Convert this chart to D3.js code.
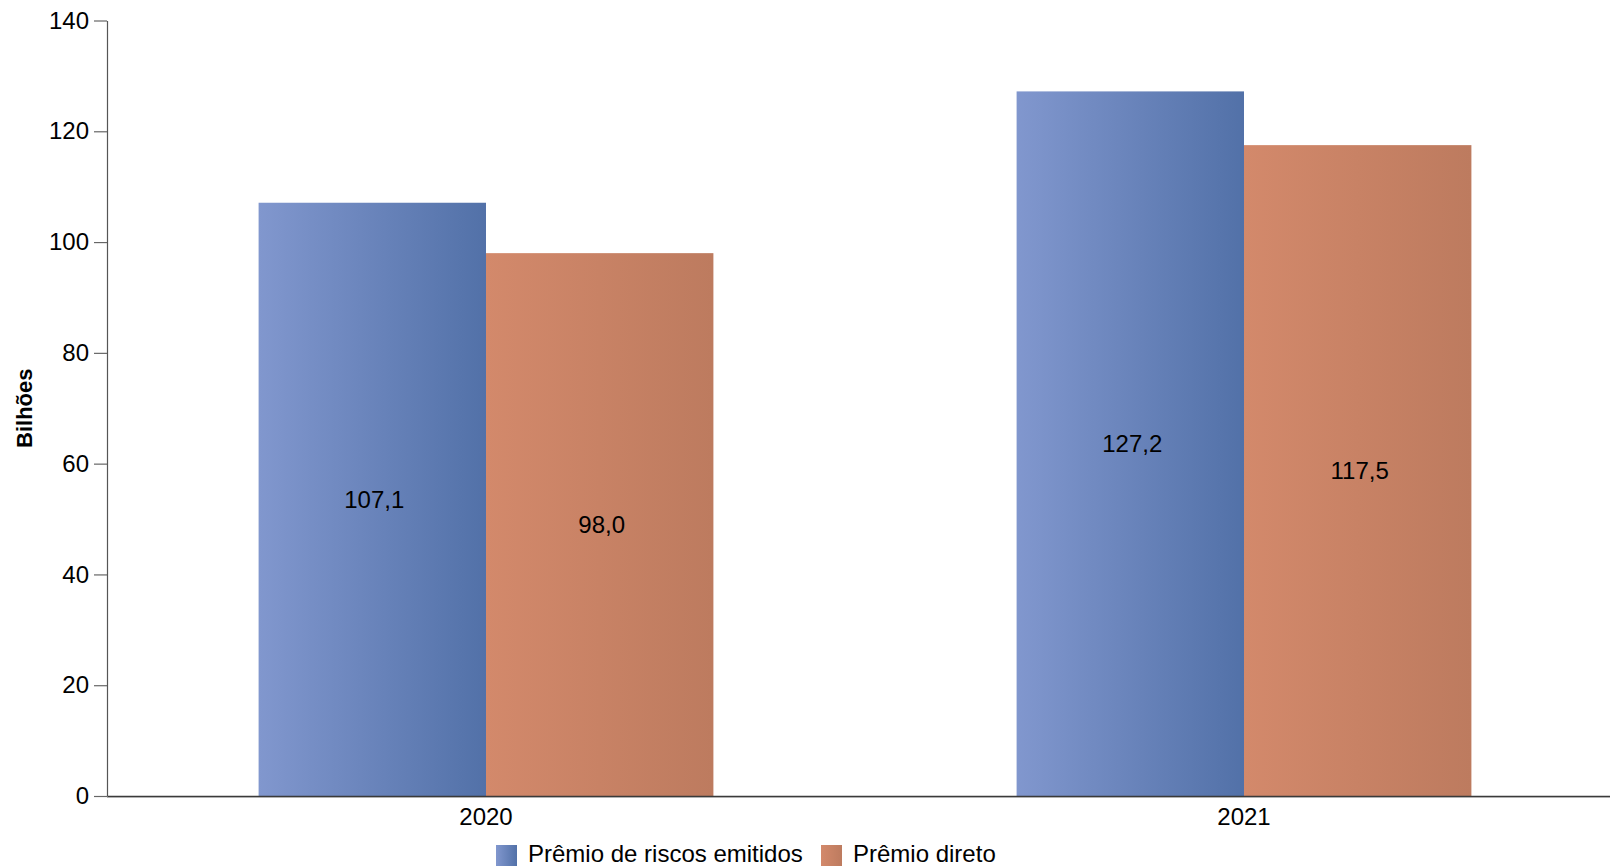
<!DOCTYPE html>
<html>
<head>
<meta charset="utf-8">
<script src="https://cdn.jsdelivr.net/npm/d3@7"></script>
<style>
  html, body { margin: 0; padding: 0; background: #fff; overflow: hidden; }
  text { font-family: "Liberation Sans", Arial, sans-serif; fill: #000; }
</style>
</head>
<body>
<svg id="chart" width="1610" height="868"></svg>
<script>
const categories = ["2020", "2021"];
const seriesNames = ["Prêmio de riscos emitidos", "Prêmio direto"];
const riscosEmitidos = [107.1, 127.2];
const premioDireto = [98.0, 117.5];
const yTicks = [0, 20, 40, 60, 80, 100, 120, 140];
const yTitle = "Bilhões";

const W = 1610, H = 868;
const margin = { left: 107, top: 20.5 };
const plotBottom = 796;
const svg = d3.select("#chart");

const defs = svg.append("defs");
const grads = [
  { id: "gBlue", from: "#8197ce", to: "#5271a8" },
  { id: "gOrange", from: "#d3896b", to: "#bd7b5f" }
];
grads.forEach(g => {
  const lg = defs.append("linearGradient").attr("id", g.id)
    .attr("x1", "0%").attr("x2", "100%").attr("y1", "0%").attr("y2", "0%");
  lg.append("stop").attr("offset", "0%").attr("stop-color", g.from);
  lg.append("stop").attr("offset", "100%").attr("stop-color", g.to);
});
const fills = ["url(#gBlue)", "url(#gOrange)"];

const x0 = d3.scaleBand().domain(categories).range([margin.left, 1623]).paddingInner(0.4).paddingOuter(0.2);
const x1 = d3.scaleBand().domain(seriesNames).range([0, x0.bandwidth()]).padding(0);
const y = d3.scaleLinear().domain([0, 140]).range([plotBottom, margin.top]);

const data = categories.map((c, i) => ({
  cat: c,
  vals: [
    { s: seriesNames[0], v: riscosEmitidos[i], k: 0 },
    { s: seriesNames[1], v: premioDireto[i], k: 1 }
  ]
}));

const groups = svg.append("g").selectAll("g").data(data).join("g")
  .attr("transform", d => `translate(${x0(d.cat)},0)`);

groups.selectAll("rect").data(d => d.vals).join("rect")
  .attr("x", d => x1(d.s))
  .attr("width", x1.bandwidth())
  .attr("y", d => y(d.v))
  .attr("height", d => y(0) - y(d.v))
  .attr("fill", d => fills[d.k]);

const fmt = v => d3.format(".1f")(v).replace(".", ",");
groups.selectAll("text.val").data(d => d.vals).join("text")
  .attr("class", "val")
  .attr("x", d => x1(d.s) + x1.bandwidth() / 2 + 2)
  .attr("y", d => (y(d.v) + y(0)) / 2)
  .attr("text-anchor", "middle")
  .attr("dominant-baseline", "central")
  .style("font-size", "24px")
  .text(d => fmt(d.v));

// Y axis
const yAxis = svg.append("g").attr("transform", `translate(${margin.left},0)`)
  .call(d3.axisLeft(y).tickValues(yTicks).tickSize(13).tickPadding(5).tickSizeOuter(0));
yAxis.select(".domain").attr("stroke", "#555").attr("stroke-width", 1.2);
yAxis.selectAll(".tick line").attr("stroke", "#666").attr("stroke-width", 1.2);
yAxis.selectAll(".tick text").style("font-size", "24px")
  .style("font-family", "'Liberation Sans', Arial, sans-serif").attr("fill", "#000");

// X axis
const xAxis = svg.append("g").attr("transform", `translate(0,${plotBottom})`)
  .call(d3.axisBottom(x0).tickSize(0).tickPadding(12).tickSizeOuter(0));
xAxis.select(".domain").attr("stroke", "#3a3a3a").attr("stroke-width", 1.5);
xAxis.selectAll(".tick text").style("font-size", "24px")
  .style("font-family", "'Liberation Sans', Arial, sans-serif").attr("fill", "#000");
svg.append("line").attr("x1", margin.left).attr("x2", W)
  .attr("y1", plotBottom + 1.5).attr("y2", plotBottom + 1.5)
  .attr("stroke", "#b0b0b0").attr("stroke-width", 1);

// Y title
svg.append("text")
  .attr("transform", `translate(32,${(plotBottom + margin.top) / 2}) rotate(-90)`)
  .attr("text-anchor", "middle")
  .style("font-size", "22px").style("font-weight", "bold")
  .text(yTitle);

// Legend
const legendX = [496, 821];
const leg = svg.append("g").selectAll("g").data(seriesNames).join("g")
  .attr("transform", (d, i) => `translate(${legendX[i]},845)`);
leg.append("rect").attr("width", 21).attr("height", 21).attr("fill", (d, i) => fills[i]);
leg.append("text").attr("x", 32).attr("y", 17).style("font-size", "24px").text(d => d);
</script>
</body>
</html>
